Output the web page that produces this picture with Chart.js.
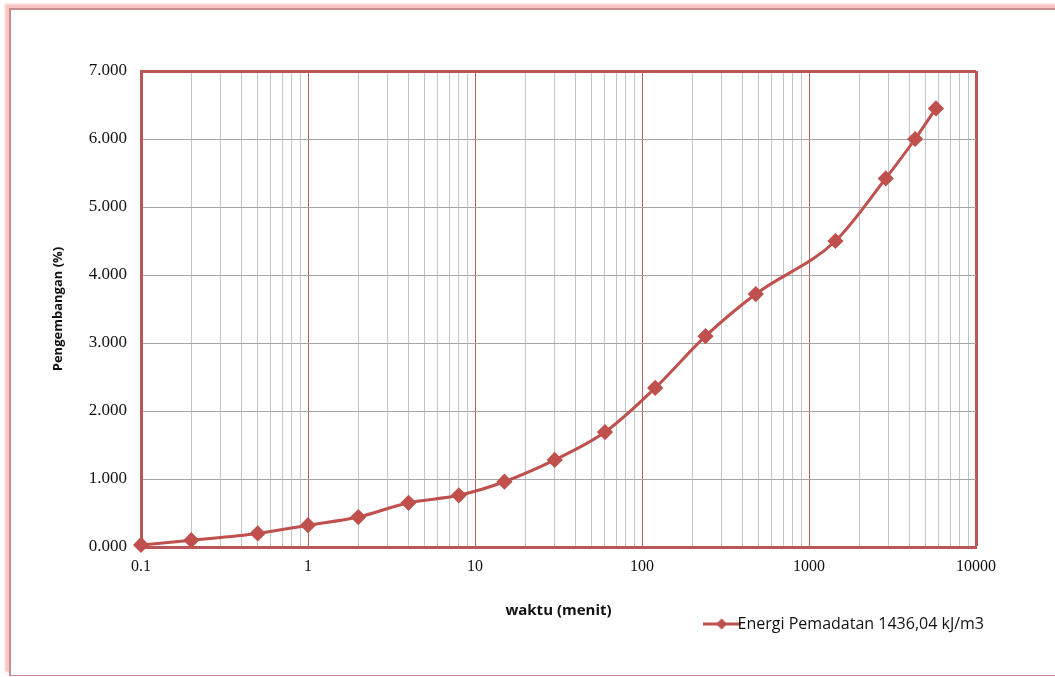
<!DOCTYPE html>
<html>
<head>
<meta charset="utf-8">
<script src="https://cdn.jsdelivr.net/npm/chart.js@4"></script>
<style>
  html, body { margin: 0; padding: 0; background: #fff; overflow: hidden; }
  #frame {
    position: absolute; left: 9px; top: 8px; width: 1100px; height: 665px;
    border-left: 2px solid #c98c8c; border-top: 2px solid #c98c8c; border-bottom: 1px solid #c99090;
    box-shadow: -4px -4px 2px #f9c4c4;
  }
  #wrap { position: absolute; left: 0; top: 0; width: 1055px; height: 677px; }
</style>
</head>
<body>
<div id="frame"></div>
<div id="wrap"><canvas id="chart" width="1055" height="677"></canvas></div>
<script>
const waktu = [0.1, 0.2, 0.5, 1, 2, 4, 8, 15, 30, 60, 120, 240, 480, 1440, 2880, 4320, 5760];
const pengembangan = [0.03, 0.1, 0.2, 0.32, 0.44, 0.65, 0.76, 0.96, 1.28, 1.69, 2.34, 3.1, 3.72, 4.5, 5.42, 6.0, 6.45];
const seriesLabel = "Energi Pemadatan 1436,04 kJ/m3";
const decades = [0.1, 1, 10, 100, 1000, 10000];

const red = "#c0504d";
const frameRed = "#b85755";

// grid values for the log axis: 1..9 in each decade
const xGrid = [];
decades.slice(0, -1).forEach((d) => {
  for (let m = 1; m <= 9; m++) xGrid.push(+(m * d).toPrecision(3));
});
xGrid.push(10000);

const isDecade = (v) => decades.some((d) => Math.abs(v / d - 1) < 1e-6);

// legend symbol: line with a diamond
const legendIcon = document.createElement("canvas");
legendIcon.width = 38;
legendIcon.height = 14;
{
  const c = legendIcon.getContext("2d");
  c.strokeStyle = red;
  c.lineWidth = 3;
  c.beginPath();
  c.moveTo(0, 7);
  c.lineTo(38, 7);
  c.stroke();
  c.fillStyle = red;
  c.beginPath();
  c.moveTo(19, 1.5);
  c.lineTo(24.5, 7);
  c.lineTo(19, 12.5);
  c.lineTo(13.5, 7);
  c.closePath();
  c.fill();
}

const shiftLegend = {
  id: "shiftLegend",
  afterLayout(chart) {
    const lg = chart.legend;
    lg.top -= 8;
    lg.bottom -= 8;
    lg.left += 12;
    lg.right += 12;
  },
};

new Chart(document.getElementById("chart").getContext("2d"), {
  type: "line",
  data: {
    datasets: [
      {
        label: seriesLabel,
        data: waktu.map((x, i) => ({ x: x, y: pengembangan[i] })),
        borderColor: red,
        backgroundColor: red,
        borderWidth: 3,
        pointStyle: "rectRot",
        pointRadius: 6,
        pointHoverRadius: 6,
        cubicInterpolationMode: "monotone",
        clip: false,
      },
    ],
  },
  options: {
    responsive: false,
    animation: false,
    layout: { padding: { left: 50, right: 79, top: 71, bottom: 27 } },
    scales: {
      x: {
        type: "logarithmic",
        min: 0.1,
        max: 10000,
        afterBuildTicks: (axis) => {
          axis.ticks = xGrid.map((v) => ({ value: v }));
        },
        afterFit: (axis) => {
          axis.height = 73;
        },
        ticks: {
          autoSkip: false,
          maxRotation: 0,
          padding: 10,
          color: "#111",
          font: { family: "Liberation Serif", size: 16 },
          callback: (v) => (isDecade(v) ? String(v) : ""),
        },
        grid: {
          drawTicks: false,
          color: (ctx) => {
            const v = ctx.tick && ctx.tick.value;
            if (v === 10000) return frameRed;
            return isDecade(v) ? "#b7625f" : "#c4c4c4";
          },
          lineWidth: (ctx) => (ctx.tick && ctx.tick.value === 10000 ? 3 : 1),
        },
        border: { color: frameRed, width: 3 },
        title: {
          display: true,
          text: "waktu (menit)",
          color: "#111",
          font: { family: "Open Sans", size: 15, weight: "bold" },
          padding: { top: 4, bottom: 0 },
        },
      },
      y: {
        min: 0,
        max: 7,
        afterFit: (axis) => {
          axis.width = 91;
        },
        ticks: {
          stepSize: 1,
          padding: 14,
          color: "#111",
          font: { family: "Liberation Serif", size: 17 },
          callback: (v) => v.toFixed(3),
        },
        grid: {
          drawTicks: false,
          color: (ctx) => (ctx.tick && ctx.tick.value === 7 ? frameRed : "#a6a6a6"),
          lineWidth: (ctx) => (ctx.tick && ctx.tick.value === 7 ? 3 : 1),
        },
        border: { color: frameRed, width: 3 },
        title: {
          display: true,
          text: "Pengembangan (%)",
          color: "#111",
          font: { family: "Open Sans", size: 13, weight: "bold" },
          padding: { top: 0, bottom: 0 },
        },
      },
    },
    plugins: {
      legend: {
        position: "bottom",
        align: "end",
        labels: {
          usePointStyle: true,
          color: "#111",
          font: { family: "Open Sans", size: 16 },
          padding: 4,
          generateLabels: (chart) =>
            chart.data.datasets.map((ds, i) => ({
              text: ds.label,
              pointStyle: legendIcon,
              datasetIndex: i,
              fontColor: "#111",
              lineWidth: 0,
              strokeStyle: "transparent",
              fillStyle: red,
            })),
        },
      },
      tooltip: { enabled: false },
    },
  },
  plugins: [shiftLegend],
});
</script>
</body>
</html>
